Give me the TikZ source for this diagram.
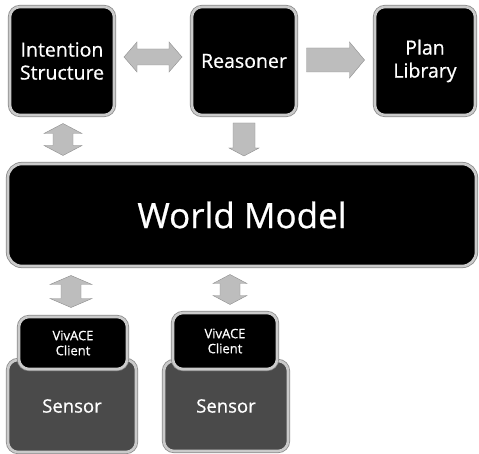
\documentclass[tikz,border=0pt]{standalone}
\usepackage{fontspec}
\setmainfont{Open Sans}
\newfontfamily\boxfont{Open Sans}[FakeBold=0.7]
\usetikzlibrary{calc}
\definecolor{rim}{HTML}{CACACA}
\definecolor{halo}{HTML}{8C8C8C}
\definecolor{flow}{HTML}{BDBDBD}
\definecolor{sensorfill}{HTML}{4A4A4A}
\tikzset{
  block/.style={draw=rim, line width=2.6pt, fill=black, rounded corners=10pt,
    preaction={draw=halo, line width=4.2pt},
    text=white, align=center, inner sep=0pt},
  sensorbox/.style={block, fill=sensorfill, font=\boxfont\fontsize{18.5}{20}\selectfont},
  clientbox/.style={block, font=\boxfont\fontsize{13}{15}\selectfont},
  topbox/.style={block, font=\boxfont\fontsize{19.5}{23}\selectfont},
  flowline/.style={fill=flow, draw=flow!75!black, line width=0.4pt, line join=miter},
  % single fat arrow pointing along +x: {length}{head half width}{shaft half width}{head length}
  pics/fatone/.style n args={4}{code={
    \filldraw[flowline] (-#1/2,-#3) -- (#1/2-#4,-#3) -- (#1/2-#4,-#2) -- (#1/2,0)
      -- (#1/2-#4,#2) -- (#1/2-#4,#3) -- (-#1/2,#3) -- cycle;}},
  % double fat arrow along x
  pics/fattwo/.style n args={4}{code={
    \filldraw[flowline] (-#1/2,0) -- (-#1/2+#4,-#2) -- (-#1/2+#4,-#3) -- (#1/2-#4,-#3)
      -- (#1/2-#4,-#2) -- (#1/2,0) -- (#1/2-#4,#2) -- (#1/2-#4,#3)
      -- (-#1/2+#4,#3) -- (-#1/2+#4,#2) -- cycle;}},
}
\begin{document}
\begin{tikzpicture}[x=1pt,y=-1pt]
\useasboundingbox (0,0) rectangle (479,454);
\fill[white] (0,0) rectangle (479,454);

% top row
\node[topbox, minimum width=104pt, minimum height=108pt] (intent) at (62,61) {Intention\\Structure};
\node[topbox, minimum width=104pt, minimum height=108pt] (reason) at (244,61) {Reasoner};
\node[topbox, minimum width=100pt, minimum height=108pt] (plan) at (425,61) {Plan\\Library};

% world model
\node[block, rounded corners=14pt, minimum width=468pt, minimum height=102pt,
      font=\boxfont\fontsize{35}{40}\selectfont] (world) at (242,215) {World Model};

% sensors with their clients on top
\node[sensorbox, minimum width=128pt, minimum height=92pt] (sensA) at (72,406) {\raisebox{-6pt}{Sensor}};
\node[clientbox, minimum width=108pt, minimum height=52pt] (cliA) at (73,343) {VivACE\\Client};
\node[sensorbox, minimum width=124pt, minimum height=90pt] (sensB) at (226,406) {\raisebox{-6pt}{Sensor}};
\node[clientbox, minimum width=104pt, minimum height=56pt] (cliB) at (225,341) {VivACE\\Client};

% flows between the blocks
\coordinate (ir) at ($(intent.east)!0.5!(reason.west)+(0,-4)$);
\coordinate (rp) at ($(reason.east)!0.5!(plan.west)+(0,-1)$);
\coordinate (iw) at ($(intent.south-|63,0)!0.5!(world.north-|63,0)$);
\coordinate (rw) at ($(reason.south)!0.5!(reason.south|-world.north)$);
\coordinate (wa) at ($(world.south-|71,0)!0.5!(cliA.north-|71,0)$);
\coordinate (wb) at ($(world.south-|230,0)!0.5!(cliB.north-|230,0)$);

\pic at (ir) {fattwo={58}{15}{8}{13}};
\pic at (rp) {fatone={58}{18}{12}{15}};
\pic[rotate=90] at (iw) {fattwo={32}{19}{10}{10}};
\pic[rotate=-90] at (rw) {fatone={33}{15}{11}{8}};
\pic[rotate=90] at (wa) {fattwo={32}{21}{10}{9}};
\pic[rotate=90] at (wb) {fattwo={30}{17}{10}{9}};
\end{tikzpicture}
\end{document}
